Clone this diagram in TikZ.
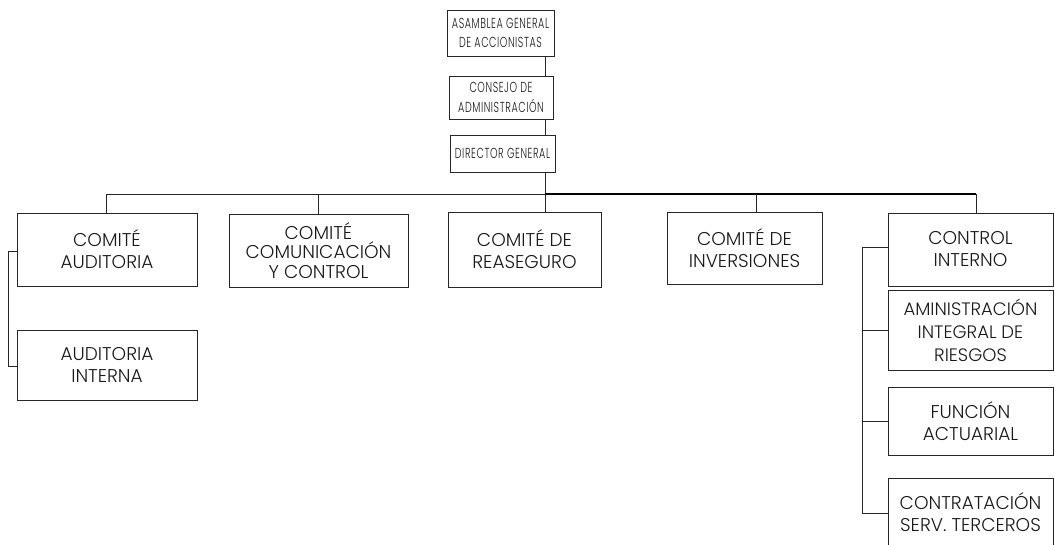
\documentclass[tikz,border=0pt]{standalone}
\usepackage{fontspec}
\setmainfont{Poppins}[UprightFont=* Light]
\newfontfamily\topfont[FakeStretch=0.66,LetterSpace=4,UprightFont=* Light]{Poppins}
\begin{document}
\begin{tikzpicture}[x=1pt,y=-1pt,
  box/.style={draw=black!85,line width=0.8pt,align=center,inner sep=0pt,text=black!90,
    font=\fontsize{18.5}{22}\selectfont},
  box3/.style={box,font=\fontsize{18.5}{19.5}\selectfont},
  boxr/.style={box,font=\fontsize{18}{23}\selectfont},
  topbox/.style={box,font=\topfont\fontsize{14.5}{19.5}\selectfont},
  ln/.style={draw=black!85,line width=0.8pt},
  thick ln/.style={draw=black,line width=1.6pt}]
\useasboundingbox (0,0) rectangle (1055,544);
% top chain
\node[topbox,minimum width=107pt,minimum height=46pt] (asam) at (500.5,33) {ASAMBLEA GENERAL\\DE ACCIONISTAS};
\node[topbox,minimum width=104pt,minimum height=43pt] (cons) at (501,97.5) {CONSEJO DE\\ADMINISTRACIÓN};
\node[topbox,minimum width=105pt,minimum height=37pt] (dir) at (502.5,153.5) {DIRECTOR GENERAL};
% second row
\node[box,minimum width=180pt,minimum height=73pt] (caud) at (107,249.5) {COMITÉ\\AUDITORIA};
\node[box3,minimum width=179pt,minimum height=73pt] (ccom) at (318.5,250.5) {COMITÉ\\COMUNICACIÓN\\Y CONTROL};
\node[box,minimum width=153pt,minimum height=75pt] (crea) at (524.5,249.5) {COMITÉ DE\\REASEGURO};
\node[box,minimum width=155pt,minimum height=72pt] (cinv) at (744.5,248) {COMITÉ DE\\INVERSIONES};
\node[box,minimum width=165pt,minimum height=73pt] (cint) at (970.5,249.5) {CONTROL\\INTERNO};
% left sub
\node[box,minimum width=180pt,minimum height=70pt] (aint) at (107,365) {AUDITORIA\\INTERNA};
% right column
\node[boxr,minimum width=165pt,minimum height=80pt] (ries) at (970.5,330) {AMINISTRACIÓN\\INTEGRAL DE\\RIESGOS};
\node[box,minimum width=165pt,minimum height=68pt] (fact) at (970.5,421) {FUNCIÓN\\ACTUARIAL};
\node[box,minimum width=165pt,minimum height=68pt] (cont) at (970.5,512) {CONTRATACIÓN\\SERV. TERCEROS};
% connectors top
\coordinate (busL) at (106,194);
\coordinate (busM) at (545,194);
\coordinate (busR) at (976,194);
\draw[ln] (asam.south -| busM) -- (cons.north -| busM);
\draw[ln] (cons.south -| busM) -- (dir.north -| busM);
\draw[ln] (dir.south -| busM) -- (busM);
\draw[ln] (busL) -- (busM);
\draw[thick ln] (busM) -- (busR);
\draw[ln] (busL) -- (busL |- caud.north);
\draw[ln] (ccom.north |- busL) -- (ccom.north);
\draw[ln] (busM) -- (busM |- crea.north);
\coordinate (dinv) at (756,194);
\draw[ln] (dinv) -- (dinv |- cinv.north);
\draw[ln] (busR) -- (busR |- cint.north);
% left bracket
\coordinate (lb1) at (8,251);
\coordinate (lb2) at (8,366);
\draw[ln] (caud.west |- lb1) -- (lb1) -- (lb2) -- (aint.west |- lb2);
% right bracket
\coordinate (rb1) at (862,247);
\coordinate (rb4) at (862,513);
\draw[ln] (cint.west |- rb1) -- (rb1) -- (rb4) -- (cont.west |- rb4);
\draw[ln] (rb1 |- ries.west) -- (ries.west);
\draw[ln] (rb1 |- fact.west) -- (fact.west);
\end{tikzpicture}
\end{document}
